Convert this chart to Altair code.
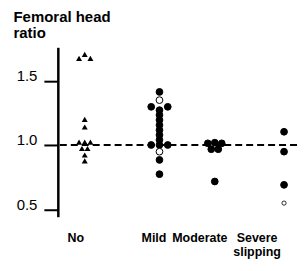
import altair as alt
import pandas as pd

# ---- data ----
groups = ["No", "Mild", "Moderate", "Severe"]
group_labels = ["No", "Mild", "Moderate", "Severe\nslipping"]

no_values = [1.705, 1.674, 1.674, 1.20, 1.14, 1.023, 1.023, 1.023, 0.973, 0.973, 0.922, 0.876]
mild_values = [1.413, 1.349, 1.297, 1.297, 1.271, 1.233, 1.194, 1.155, 1.116, 1.078,
               1.039, 1.0, 1.0, 1.0, 0.948, 0.884, 0.773]
mild_open = [False, True, False, False, False, False, False, False, False, False,
             False, False, False, False, True, False, False]
moderate_values = [1.013, 1.018, 1.013, 0.967, 0.967, 0.716]
moderate_open = [False] * 6
severe_values = [1.103, 0.948, 0.69, 0.548]
severe_open = [False, False, False, True]

y_ticks = [0.5, 1.0, 1.5]
reference_value = 1.0

# ---- layout (pixel-like x units; offsets separate overlapping points) ----
no_dx = [0, -5.7, 5.7, 0, 0, -5.7, 0, 5.7, -2.8, 2.8, 0, 0]
mild_dx = [0, 0, -8.3, 8.3, 0, 0, 0, 0, 0, 0, 0, -8.3, 0, 8.3, 0, 0, 0]
moderate_dx = [-7, 0, 7, -3.5, 3.5, 0]
severe_dx = [0, 0, 0, 0]
column_x = {"No": 27, "Mild": 102, "Moderate": 157.5, "Severe": 227}
label_x = {"No": 18, "Mild": 96.5, "Moderate": 142.5, "Severe": 200}

tri = pd.DataFrame({
    "x": [column_x["No"] + d for d in no_dx],
    "ratio": no_values,
})

rows = []
for g, vals, opens, dxs in [("Mild", mild_values, mild_open, mild_dx),
                            ("Moderate", moderate_values, moderate_open, moderate_dx),
                            ("Severe", severe_values, severe_open, severe_dx)]:
    for v, o, d in zip(vals, opens, dxs):
        small = (g == "Severe" and o)
        rows.append({"group": g, "x": column_x[g] + d, "ratio": v,
                     "fill": "white" if o else "black",
                     "size": 18 if small else 46,
                     "sw": 0.8 if small else 1.0,
                     "order": 1 if o else 0})
circ = pd.DataFrame(rows).sort_values("order", kind="stable")

labels = pd.DataFrame({"x": [label_x[g] for g in groups], "label": group_labels})
ref = pd.DataFrame({"ratio": [reference_value]})

FONT = "Liberation Sans"
xscale = alt.Scale(domain=[0, 240], nice=False, zero=False)
yscale = alt.Scale(domain=[0.442, 1.76], nice=False, zero=False)

yaxis = alt.Axis(values=y_ticks, format=".1f", tickSize=14, tickWidth=2, tickColor="black",
                 domainWidth=2.5, domainColor="black", labelFontSize=15, labelFont=FONT,
                 labelColor="black", labelPadding=7, labelBaseline="alphabetic", grid=False,
                 title=["Femoral head", "ratio"], titleAngle=0, titleAlign="left",
                 titleBaseline="top", titleX=-45, titleY=-38, titleFontSize=15,
                 titleFontWeight="bold", titleLineHeight=16, titleFont=FONT, titleColor="black")

rule = alt.Chart(ref).mark_rule(strokeDash=[7, 4], strokeWidth=2, color="black").encode(
    y=alt.Y("ratio:Q", scale=yscale, axis=yaxis)
)

triangles = alt.Chart(tri).mark_point(shape="triangle-up", filled=True, size=36,
                                      color="black", opacity=1).encode(
    x=alt.X("x:Q", scale=xscale, axis=None),
    y=alt.Y("ratio:Q", scale=yscale),
)

circles = alt.Chart(circ).mark_point(shape="circle", filled=True, stroke="black",
                                     opacity=1, strokeOpacity=1, fillOpacity=1).encode(
    x=alt.X("x:Q", scale=xscale, axis=None),
    y=alt.Y("ratio:Q", scale=yscale),
    fill=alt.Fill("fill:N", scale=None),
    size=alt.Size("size:Q", scale=None),
    strokeWidth=alt.StrokeWidth("sw:Q", scale=None),
)

text = alt.Chart(labels).mark_text(font=FONT, fontSize=12.5, fontWeight="bold", color="black",
                                   align="center", baseline="alphabetic", lineBreak="\n",
                                   lineHeight=14).encode(
    x=alt.X("x:Q", scale=xscale, axis=None),
    y=alt.value(195),
    text="label:N",
)

chart = alt.layer(rule, triangles, circles, text).properties(
    width=240, height=170,
    autosize=alt.AutoSizeParams(type="none"),
    padding={"left": 50, "top": 39, "right": 0, "bottom": 46},
    background="white",
).configure_view(stroke=None)

chart.save("out.html", embed_options={"renderer": "svg", "actions": False})
